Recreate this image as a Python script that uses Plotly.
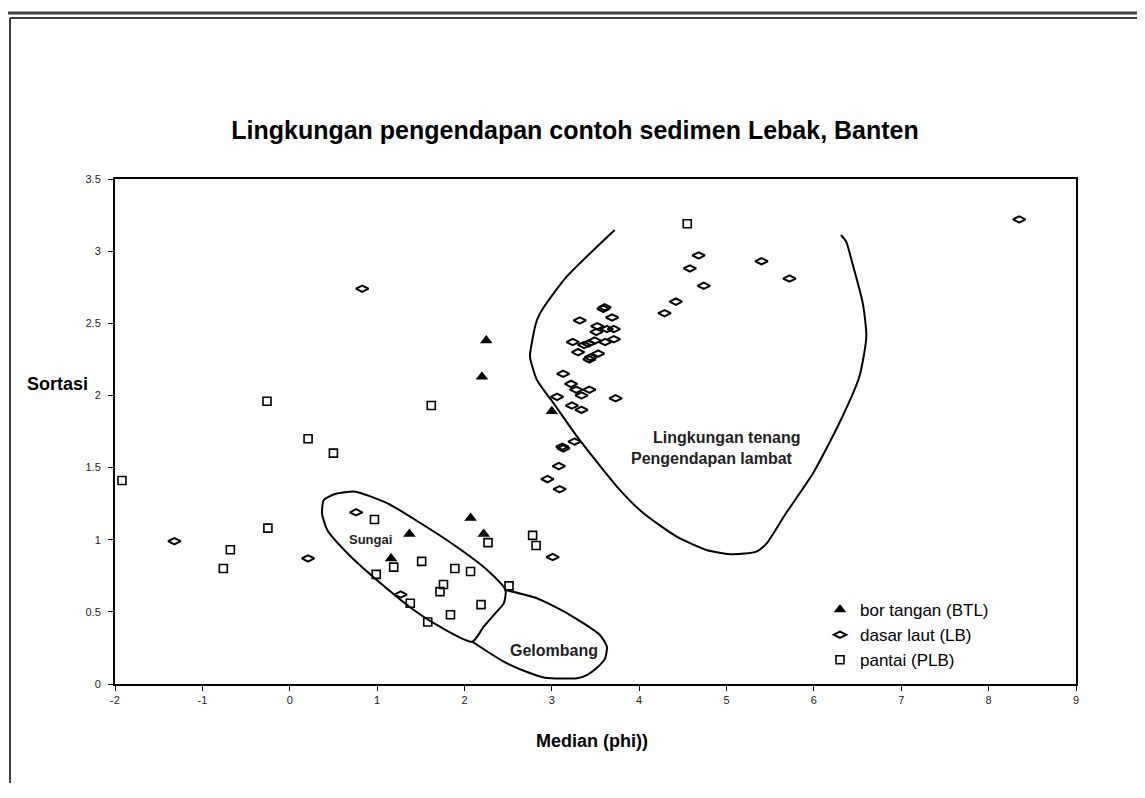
import plotly.graph_objects as go

# ---- data (Median phi, Sortasi) ----
btl_x = [2.25, 2.20, 3.00, 2.07, 2.22, 1.37, 1.16]
btl_y = [2.38, 2.13, 1.89, 1.15, 1.04, 1.04, 0.87]

lb_x = [4.68, 4.58, 5.40, 4.74, 4.42, 4.29, 3.605, 3.59, 3.32, 3.69, 3.52, 3.63, 3.71, 3.51,
        3.24, 3.37, 3.42, 3.49, 3.61, 3.71, 3.30, 3.444, 3.43, 3.53, 3.13, 3.22, 3.28, 3.43,
        3.34, 3.06, 3.23, 3.34, 3.73, 3.26, 3.132, 3.12, 3.08, 2.95, 3.09, 5.72, 8.35, 0.83,
        -1.32, 0.21, 0.76, 1.27, 3.01]
lb_y = [2.97, 2.88, 2.93, 2.76, 2.65, 2.57, 2.611, 2.60, 2.52, 2.54, 2.48, 2.46, 2.46, 2.44,
        2.37, 2.35, 2.36, 2.38, 2.37, 2.39, 2.30, 2.264, 2.25, 2.29, 2.15, 2.08, 2.04, 2.04,
        2.00, 1.99, 1.93, 1.90, 1.98, 1.68, 1.633, 1.645, 1.51, 1.42, 1.35, 2.81, 3.22, 2.74,
        0.99, 0.87, 1.19, 0.62, 0.88]

plb_x = [-1.92, -0.26, 0.21, 0.50, -0.25, -0.68, -0.76, 1.62, 2.27, 2.78, 2.82, 1.51, 1.89,
         2.07, 0.97, 1.19, 0.99, 1.76, 1.72, 1.38, 2.19, 1.84, 1.58, 2.51, 4.55]
plb_y = [1.41, 1.96, 1.70, 1.60, 1.08, 0.93, 0.80, 1.93, 0.98, 1.03, 0.96, 0.85, 0.80,
         0.78, 1.14, 0.81, 0.76, 0.69, 0.64, 0.56, 0.55, 0.48, 0.43, 0.68, 3.19]

# ---- environment boundaries (drawn in data units) ----
sungai_x = [0.39, 0.52, 0.75, 1.12, 1.50, 1.91, 2.26, 2.47, 2.45, 2.37, 2.22, 2.09,
            1.72, 1.42, 1.04, 0.66, 0.43, 0.37, 0.39]
sungai_y = [1.275, 1.317, 1.333, 1.252, 1.114, 0.951, 0.790, 0.651, 0.559, 0.501, 0.397, 0.293,
            0.397, 0.513, 0.698, 0.906, 1.067, 1.183, 1.275]

gelombang_x = [2.47, 2.83, 3.21, 3.55, 3.63, 3.61, 3.51, 3.40, 3.29, 2.92, 2.71, 2.45, 2.09]
gelombang_y = [0.651, 0.594, 0.478, 0.340, 0.258, 0.178, 0.109, 0.062, 0.040, 0.044, 0.085, 0.155, 0.293]

tenang_x = [3.72, 3.17, 2.90, 2.83, 2.77, 2.75, 2.83, 3.02, 3.29, 3.59, 3.78, 4.05, 4.43, 4.77,
            5.07, 5.34, 5.46, 5.68, 5.99, 6.29, 6.52, 6.60, 6.56, 6.44, 6.37, 6.31]
tenang_y = [3.146, 2.823, 2.604, 2.523, 2.361, 2.268, 2.107, 1.946, 1.714, 1.483, 1.344, 1.183,
            1.021, 0.929, 0.899, 0.917, 0.975, 1.183, 1.460, 1.807, 2.130, 2.407, 2.638, 2.916,
            3.065, 3.112]

x_ticks = list(range(-2, 10))
y_ticks = [0, 0.5, 1, 1.5, 2, 2.5, 3, 3.5]

FONT = "Liberation Sans, Arial, sans-serif"

# page body has an 8px margin -> figure placed to compensate
W, H = 1129, 775
ML, MT = 107, 171
PW, PH = 961, 505

fig = go.Figure()

line_style = dict(color="black", width=2)
for bx, by in [(sungai_x, sungai_y), (gelombang_x, gelombang_y), (tenang_x, tenang_y)]:
    fig.add_trace(go.Scatter(x=bx, y=by, mode="lines", line=dict(**line_style, shape="spline", smoothing=0.6),
                             showlegend=False, hoverinfo="skip"))

fig.add_trace(go.Scatter(x=btl_x, y=btl_y, mode="markers", name="bor tangan (BTL)",
                         marker=dict(symbol="triangle-up", size=11, color="black")))
fig.add_trace(go.Scatter(x=lb_x, y=lb_y, mode="markers", name="dasar laut (LB)",
                         marker=dict(symbol="diamond-wide-open", size=9, color="black",
                                     line=dict(width=2, color="black"))))
fig.add_trace(go.Scatter(x=plb_x, y=plb_y, mode="markers", name="pantai (PLB)",
                         marker=dict(symbol="square-open", size=8, color="black",
                                     line=dict(width=1.6, color="black"))))

# region labels
labels = [("Sungai", 0.92, 1.0, 13), ("Gelombang", 3.02, 0.23, 16),
          ("Lingkungan tenang", 5.01, 1.71, 16), ("Pengendapan lambat", 4.83, 1.56, 16)]
for txt, lx, ly, fs in labels:
    fig.add_annotation(x=lx, y=ly, text="<b>%s</b>" % txt, showarrow=False,
                       xanchor="center", yanchor="middle",
                       font=dict(family=FONT, size=fs, color="#222"))


def px_x(p):
    return (p - 115) / PW


def px_y(p):
    return (684 - p) / PH


# axis titles as annotations
fig.add_annotation(xref="paper", yref="paper", x=px_x(57), y=px_y(384),
                   text="<b>Sortasi</b>", showarrow=False, xanchor="center", yanchor="middle",
                   font=dict(family=FONT, size=18, color="black"))
fig.add_annotation(xref="paper", yref="paper", x=px_x(592), y=px_y(741),
                   text="<b>Median (phi))</b>", showarrow=False, xanchor="center", yanchor="middle",
                   font=dict(family=FONT, size=18, color="black"))

# outer double frame (left and top edges; right/bottom edges lie off-page)
frame = [
    (6, 13, 6, 800, "#444", 3), (6, 13, 1160, 13, "#444", 3),
    (10, 18, 10, 800, "black", 1.5), (10, 18, 1160, 18, "black", 1.5),
]
for x0, y0, x1, y1, c, w in frame:
    fig.add_shape(type="line", xref="paper", yref="paper", x0=px_x(x0), y0=px_y(y0),
                  x1=px_x(x1), y1=px_y(y1), line=dict(color=c, width=w), layer="below")

fig.update_layout(
    width=W, height=H,
    margin=dict(l=ML, r=W - ML - PW, t=MT, b=H - MT - PH),
    paper_bgcolor="white", plot_bgcolor="white",
    font=dict(family=FONT, color="black"),
    title=dict(text="<b>Lingkungan pengendapan contoh sedimen Lebak, Banten</b>",
               x=(575 - 8) / W, xref="container", xanchor="center",
               y=1 - (130 - 8) / H, yref="container", yanchor="middle",
               font=dict(family=FONT, size=25, color="black")),
    showlegend=True,
    legend=dict(x=px_x(820), y=px_y(592), xanchor="left", yanchor="top",
                font=dict(family=FONT, size=17, color="black"),
                bgcolor="rgba(0,0,0,0)", tracegroupgap=0),
    xaxis=dict(range=[-2, 9], tickvals=x_ticks, ticktext=[str(v) for v in x_ticks],
               showgrid=False, zeroline=False, showline=True, linecolor="black", linewidth=2,
               mirror=True, ticks="outside", ticklen=5, tickcolor="black",
               tickfont=dict(family=FONT, size=11, color="#222")),
    yaxis=dict(range=[0, 3.5], tickvals=y_ticks, ticktext=[("%g" % v) for v in y_ticks],
               showgrid=False, zeroline=False, showline=True, linecolor="black", linewidth=2,
               mirror=True, ticks="outside", ticklen=5, tickcolor="black", ticklabelstandoff=5,
               tickfont=dict(family=FONT, size=11, color="#222")),
)

fig.write_html("out.html")
